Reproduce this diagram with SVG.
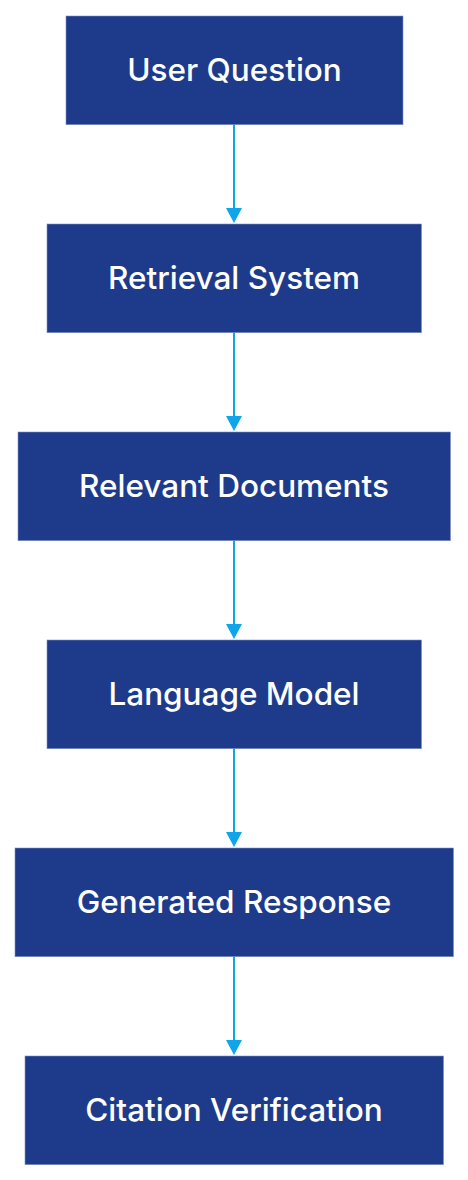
<svg xmlns="http://www.w3.org/2000/svg" width="468" height="1180" viewBox="0 0 468 1180">
<style>
.node rect{fill:#1e3a8a;stroke:#8090c8;stroke-width:0.6}
.node text{fill:#ffffff;font-family:Inter,"Liberation Sans",sans-serif;font-size:31.5px;font-weight:500;text-anchor:middle}
.edge{stroke:#0ea5e9;stroke-width:2;fill:none}
.head{fill:#0ea5e9}
</style>
<rect width="468" height="1180" fill="#ffffff"/>
<g id="connectors">
<line class="edge" x1="234" y1="124.7" x2="234" y2="209"/>
<path class="head" d="M226,208 L242,208 L234,223 Z"/>
<line class="edge" x1="234" y1="332.7" x2="234" y2="417"/>
<path class="head" d="M226,416 L242,416 L234,431 Z"/>
<line class="edge" x1="234" y1="540.7" x2="234" y2="625"/>
<path class="head" d="M226,624 L242,624 L234,639 Z"/>
<line class="edge" x1="234" y1="748.7" x2="234" y2="833"/>
<path class="head" d="M226,832 L242,832 L234,847 Z"/>
<line class="edge" x1="234" y1="956.7" x2="234" y2="1041"/>
<path class="head" d="M226,1040 L242,1040 L234,1055 Z"/>
</g>
<g id="n1" class="node"><rect x="66" y="16" width="337" height="108.7"/><text x="234.5" y="81">User Question</text></g>
<g id="n2" class="node"><rect x="47" y="224" width="374.5" height="108.7"/><text x="234" y="289">Retrieval System</text></g>
<g id="n3" class="node"><rect x="18" y="432" width="432.5" height="108.7"/><text x="234" y="497">Relevant Documents</text></g>
<g id="n4" class="node"><rect x="47" y="640" width="374.5" height="108.7"/><text x="234" y="705">Language Model</text></g>
<g id="n5" class="node"><rect x="15" y="848" width="438.5" height="108.7"/><text x="234" y="913">Generated Response</text></g>
<g id="n6" class="node"><rect x="25" y="1056" width="418.5" height="108.7"/><text x="234" y="1121">Citation Verification</text></g>
</svg>
